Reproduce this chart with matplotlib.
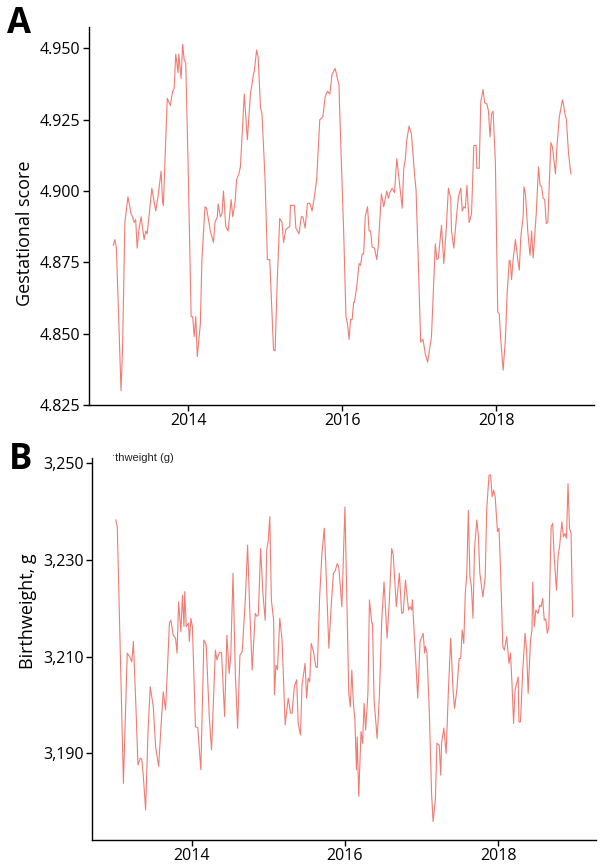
import matplotlib
matplotlib.use("Agg")
import matplotlib.pyplot as plt
from matplotlib.ticker import FuncFormatter

plt.rcParams['font.family'] = ['Open Sans', 'DejaVu Sans']

# Panel A: gestational score (decimal year, value)
ga_t = [2013.03, 2013.05, 2013.07, 2013.13, 2013.15, 2013.18, 2013.22, 2013.26, 2013.28, 2013.30,
        2013.32, 2013.34, 2013.36, 2013.39, 2013.43, 2013.45, 2013.47, 2013.53, 2013.58, 2013.61,
        2013.65, 2013.67, 2013.68, 2013.73, 2013.77, 2013.80, 2013.82, 2013.84, 2013.87, 2013.88,
        2013.91, 2013.93, 2013.95, 2013.97, 2014.00, 2014.04, 2014.06, 2014.08, 2014.10, 2014.12,
        2014.16, 2014.18, 2014.22, 2014.24, 2014.29, 2014.31, 2014.33, 2014.35, 2014.38, 2014.39,
        2014.42, 2014.44, 2014.46, 2014.49, 2014.52, 2014.56, 2014.58, 2014.61, 2014.63, 2014.66,
        2014.68, 2014.73, 2014.77, 2014.81, 2014.85, 2014.86, 2014.89, 2014.91, 2014.94, 2014.96,
        2015.00, 2015.03, 2015.06, 2015.11, 2015.13, 2015.16, 2015.19, 2015.22, 2015.24, 2015.27,
        2015.29, 2015.32, 2015.33, 2015.38, 2015.40, 2015.44, 2015.47, 2015.49, 2015.52, 2015.55,
        2015.58, 2015.61, 2015.64, 2015.67, 2015.71, 2015.75, 2015.78, 2015.81, 2015.84, 2015.87,
        2015.89, 2015.91, 2015.93, 2015.96, 2015.97, 2016.02, 2016.05, 2016.07, 2016.09, 2016.11,
        2016.13, 2016.15, 2016.16, 2016.19, 2016.22, 2016.24, 2016.26, 2016.28, 2016.30, 2016.33,
        2016.35, 2016.37, 2016.39, 2016.42, 2016.45, 2016.47, 2016.51, 2016.54, 2016.58, 2016.60,
        2016.62, 2016.65, 2016.68, 2016.71, 2016.74, 2016.78, 2016.80, 2016.82, 2016.84, 2016.87,
        2016.90, 2016.94, 2016.96, 2016.99, 2017.02, 2017.05, 2017.08, 2017.11, 2017.14, 2017.16,
        2017.21, 2017.23, 2017.25, 2017.29, 2017.32, 2017.35, 2017.38, 2017.41, 2017.42, 2017.45,
        2017.48, 2017.51, 2017.54, 2017.56, 2017.58, 2017.60, 2017.62, 2017.65, 2017.68, 2017.71,
        2017.74, 2017.75, 2017.78, 2017.80, 2017.83, 2017.85, 2017.88, 2017.90, 2017.92, 2017.94,
        2017.96, 2017.99, 2018.02, 2018.04, 2018.06, 2018.09, 2018.12, 2018.14, 2018.17, 2018.18,
        2018.20, 2018.22, 2018.25, 2018.28, 2018.30, 2018.32, 2018.35, 2018.36, 2018.38, 2018.41,
        2018.43, 2018.44, 2018.46, 2018.48, 2018.50, 2018.52, 2018.55, 2018.57, 2018.59, 2018.61,
        2018.63, 2018.65, 2018.67, 2018.71, 2018.73, 2018.77, 2018.79, 2018.82, 2018.86, 2018.87,
        2018.90, 2018.91, 2018.94, 2018.97]
ga_v = [4.881, 4.883, 4.880, 4.830, 4.845, 4.889, 4.898, 4.892, 4.891, 4.889,
        4.890, 4.880, 4.886, 4.891, 4.883, 4.886, 4.885, 4.901, 4.893, 4.898,
        4.907, 4.896, 4.895, 4.9325, 4.930, 4.935, 4.936, 4.948, 4.9415, 4.948,
        4.9395, 4.9515, 4.946, 4.945, 4.910, 4.856, 4.856, 4.849, 4.856, 4.842,
        4.8535, 4.876, 4.8945, 4.894, 4.886, 4.884, 4.882, 4.889, 4.891, 4.8955,
        4.891, 4.892, 4.900, 4.8875, 4.886, 4.897, 4.891, 4.896, 4.904, 4.906,
        4.9085, 4.934, 4.918, 4.934, 4.941, 4.942, 4.9494, 4.947, 4.9295, 4.927,
        4.904, 4.876, 4.876, 4.8443, 4.844, 4.870, 4.8904, 4.889, 4.882, 4.8865,
        4.887, 4.8875, 4.895, 4.895, 4.887, 4.885, 4.891, 4.891, 4.887, 4.8957,
        4.8957, 4.893, 4.898, 4.904, 4.925, 4.926, 4.933, 4.935, 4.934, 4.941,
        4.942, 4.943, 4.9405, 4.937, 4.927, 4.886, 4.856, 4.8535, 4.848, 4.855,
        4.855, 4.861, 4.861, 4.8665, 4.8746, 4.874, 4.878, 4.878, 4.891, 4.8945,
        4.886, 4.886, 4.8804, 4.880, 4.876, 4.881, 4.899, 4.8945, 4.900, 4.8975,
        4.8995, 4.901, 4.8995, 4.9114, 4.904, 4.894, 4.908, 4.911, 4.918, 4.9228,
        4.920, 4.906, 4.9003, 4.8746, 4.847, 4.848, 4.843, 4.840, 4.8455, 4.849,
        4.8815, 4.876, 4.8765, 4.888, 4.8746, 4.886, 4.901, 4.8975, 4.886, 4.880,
        4.8895, 4.898, 4.901, 4.893, 4.8945, 4.894, 4.902, 4.889, 4.892, 4.916,
        4.916, 4.908, 4.908, 4.9313, 4.9356, 4.931, 4.9305, 4.928, 4.919, 4.927,
        4.928, 4.910, 4.8577, 4.857, 4.8477, 4.8372, 4.848, 4.863, 4.8757, 4.8757,
        4.869, 4.876, 4.883, 4.876, 4.8723, 4.884, 4.891, 4.9015, 4.899, 4.886,
        4.880, 4.8775, 4.886, 4.8765, 4.884, 4.892, 4.9085, 4.902, 4.9015, 4.8975,
        4.897, 4.8886, 4.889, 4.917, 4.9155, 4.906, 4.916, 4.926, 4.932, 4.931,
        4.926, 4.9255, 4.913, 4.906]

# Panel B: birthweight in grams (decimal year, value)
bw_t = [2013.01, 2013.03, 2013.11, 2013.16, 2013.19, 2013.22, 2013.24, 2013.27, 2013.30, 2013.33,
        2013.35, 2013.37, 2013.40, 2013.43, 2013.46, 2013.50, 2013.53, 2013.57, 2013.60, 2013.63,
        2013.66, 2013.68, 2013.71, 2013.73, 2013.76, 2013.79, 2013.81, 2013.83, 2013.86, 2013.88,
        2013.90, 2013.91, 2013.93, 2013.96, 2013.97, 2013.99, 2014.01, 2014.05, 2014.08, 2014.12,
        2014.16, 2014.19, 2014.23, 2014.26, 2014.31, 2014.33, 2014.36, 2014.39, 2014.43, 2014.46,
        2014.49, 2014.51, 2014.54, 2014.57, 2014.60, 2014.63, 2014.66, 2014.70, 2014.73, 2014.76,
        2014.79, 2014.83, 2014.85, 2014.87, 2014.90, 2014.93, 2014.96, 2014.98, 2015.00, 2015.02,
        2015.04, 2015.07, 2015.08, 2015.10, 2015.12, 2015.15, 2015.18, 2015.22, 2015.26, 2015.29,
        2015.31, 2015.34, 2015.37, 2015.39, 2015.42, 2015.44, 2015.48, 2015.50, 2015.52, 2015.54,
        2015.56, 2015.59, 2015.62, 2015.64, 2015.67, 2015.70, 2015.73, 2015.75, 2015.79, 2015.82,
        2015.85, 2015.87, 2015.90, 2015.92, 2015.96, 2016.00, 2016.01, 2016.05, 2016.07, 2016.09,
        2016.11, 2016.13, 2016.15, 2016.16, 2016.18, 2016.21, 2016.23, 2016.25, 2016.27, 2016.30,
        2016.32, 2016.35, 2016.36, 2016.38, 2016.42, 2016.45, 2016.48, 2016.51, 2016.55, 2016.58,
        2016.61, 2016.63, 2016.67, 2016.71, 2016.74, 2016.76, 2016.79, 2016.83, 2016.85, 2016.87,
        2016.88, 2016.92, 2016.95, 2016.98, 2017.02, 2017.04, 2017.05, 2017.07, 2017.10, 2017.13,
        2017.15, 2017.18, 2017.20, 2017.23, 2017.25, 2017.26, 2017.29, 2017.32, 2017.35, 2017.38,
        2017.41, 2017.43, 2017.46, 2017.49, 2017.51, 2017.53, 2017.55, 2017.57, 2017.59, 2017.61,
        2017.63, 2017.65, 2017.67, 2017.69, 2017.72, 2017.74, 2017.76, 2017.80, 2017.83, 2017.85,
        2017.88, 2017.90, 2017.92, 2017.94, 2017.96, 2017.99, 2018.01, 2018.03, 2018.06, 2018.08,
        2018.11, 2018.14, 2018.16, 2018.18, 2018.20, 2018.22, 2018.26, 2018.27, 2018.29, 2018.32,
        2018.35, 2018.37, 2018.39, 2018.42, 2018.44, 2018.45, 2018.47, 2018.49, 2018.52, 2018.54,
        2018.56, 2018.58, 2018.60, 2018.62, 2018.64, 2018.66, 2018.69, 2018.71, 2018.73, 2018.76,
        2018.78, 2018.80, 2018.83, 2018.85, 2018.87, 2018.89, 2018.91, 2018.93, 2018.95, 2018.97]
bw_v = [3238.2, 3236.8, 3183.8, 3210.7, 3210.0, 3208.9, 3213.1, 3201.0, 3187.6, 3189.0,
        3188.8, 3185.2, 3178.3, 3194.1, 3203.8, 3199.6, 3191.4, 3187.3, 3195.5, 3202.7,
        3199.0, 3205.8, 3216.9, 3217.5, 3214.4, 3213.8, 3210.7, 3221.3, 3215.1, 3222.7,
        3216.2, 3223.4, 3216.2, 3216.9, 3213.1, 3217.9, 3216.2, 3195.5, 3195.3, 3186.6,
        3213.4, 3212.4, 3197.6, 3190.7, 3211.3, 3209.3, 3210.8, 3210.8, 3197.6, 3214.4,
        3206.5, 3210.0, 3227.2, 3206.5, 3195.2, 3210.3, 3211.0, 3221.7, 3233.0, 3218.9,
        3207.2, 3218.9, 3218.3, 3218.6, 3232.3, 3223.0, 3217.5, 3232.0, 3234.0, 3238.9,
        3221.7, 3217.5, 3202.1, 3208.2, 3207.3, 3217.9, 3213.4, 3195.9, 3201.4, 3198.3,
        3198.3, 3203.8, 3205.2, 3196.2, 3193.8, 3204.1, 3208.6, 3201.4, 3205.5, 3204.8,
        3212.7, 3211.0, 3207.9, 3207.7, 3222.3, 3231.3, 3236.5, 3229.2, 3211.7, 3220.3,
        3227.2, 3227.6, 3229.2, 3228.5, 3220.3, 3240.9, 3233.4, 3202.4, 3199.6, 3207.2,
        3200.3, 3196.9, 3186.6, 3193.4, 3181.1, 3194.5, 3192.1, 3200.3, 3194.8, 3202.4,
        3221.7, 3216.9, 3216.9, 3201.0, 3193.1, 3202.1, 3217.5, 3225.4, 3213.8, 3221.7,
        3232.3, 3231.0, 3220.3, 3227.2, 3218.9, 3219.1, 3225.8, 3219.6, 3220.3, 3219.6,
        3221.7, 3210.0, 3201.4, 3213.1, 3214.8, 3210.7, 3212.1, 3210.7, 3199.0, 3181.8,
        3175.9, 3180.4, 3192.1, 3191.7, 3185.5, 3192.1, 3195.2, 3190.0, 3203.1, 3213.8,
        3203.1, 3199.3, 3203.1, 3209.6, 3209.6, 3215.5, 3212.7, 3223.0, 3227.2, 3240.2,
        3226.5, 3224.4, 3217.9, 3232.0, 3238.2, 3235.1, 3227.2, 3222.3, 3226.5, 3240.6,
        3247.5, 3247.5, 3243.0, 3244.4, 3243.0, 3235.8, 3236.5, 3227.9, 3212.0, 3211.3,
        3214.1, 3208.6, 3210.7, 3204.1, 3196.2, 3203.1, 3205.8, 3196.5, 3196.5, 3207.2,
        3214.8, 3211.3, 3202.4, 3213.1, 3215.5, 3225.4, 3216.2, 3219.6, 3218.9, 3220.6,
        3220.3, 3222.0, 3217.5, 3217.8, 3214.8, 3216.2, 3236.8, 3237.5, 3230.6, 3223.7,
        3230.6, 3232.7, 3237.8, 3234.7, 3235.4, 3234.4, 3245.7, 3236.5, 3235.4, 3218.2]

year_ticks = [2014, 2016, 2018]
line_color = '#F07C74'

fig = plt.figure(figsize=(6, 8.66), dpi=100)
ax_a = fig.add_axes([0.1483, 0.5323, 0.8417, 0.4365])
ax_b = fig.add_axes([0.1533, 0.0300, 0.8400, 0.4411])

for ax in (ax_a, ax_b):
    ax.spines['top'].set_visible(False)
    ax.spines['right'].set_visible(False)
    ax.spines['left'].set_linewidth(1.0)
    ax.spines['bottom'].set_linewidth(1.0)
    ax.tick_params(direction='out', length=4, width=1.0, labelsize=11.5, colors='black', pad=2)
    ax.set_xticks(year_ticks)
    ax.set_xticklabels([str(y) for y in year_ticks])

ax_a.plot(ga_t, ga_v, color=line_color, linewidth=0.8)
ax_a.set_xlim(2012.714, 2019.27)
ax_a.set_ylim(4.825, 4.9575)
ax_a.set_yticks([4.825, 4.850, 4.875, 4.900, 4.925, 4.950])
ax_a.yaxis.set_major_formatter(FuncFormatter(lambda v, p: f'{v:.3f}'))
ax_a.set_ylabel('Gestational score', fontsize=13)
ax_a.yaxis.set_label_coords(-0.108, 0.455)

ax_b.plot(bw_t, bw_v, color=line_color, linewidth=0.8)
ax_b.set_xlim(2012.70, 2019.275)
ax_b.set_ylim(3172.1, 3251)
ax_b.set_yticks([3190, 3210, 3230, 3250])
ax_b.yaxis.set_major_formatter(FuncFormatter(lambda v, p: f'{v:,.0f}'))
ax_b.set_ylabel('Birthweight, g', fontsize=13)
ax_b.yaxis.set_label_coords(-0.110, 0.60)

fig.text(0.012, 0.972, 'A', fontsize=25, fontweight='bold', va='center', ha='left',
         family=['Open Sans', 'DejaVu Sans'])
fig.text(0.015, 0.469, 'B', fontsize=25, fontweight='bold', va='center', ha='left',
         family=['Open Sans', 'DejaVu Sans'])
fig.text(0.187, 0.471, '\u02d1thweight (g)', fontsize=8, va='center', ha='left',
         family=['Liberation Sans', 'DejaVu Sans'], color='#222222')

fig.savefig('out.png', dpi=100)
